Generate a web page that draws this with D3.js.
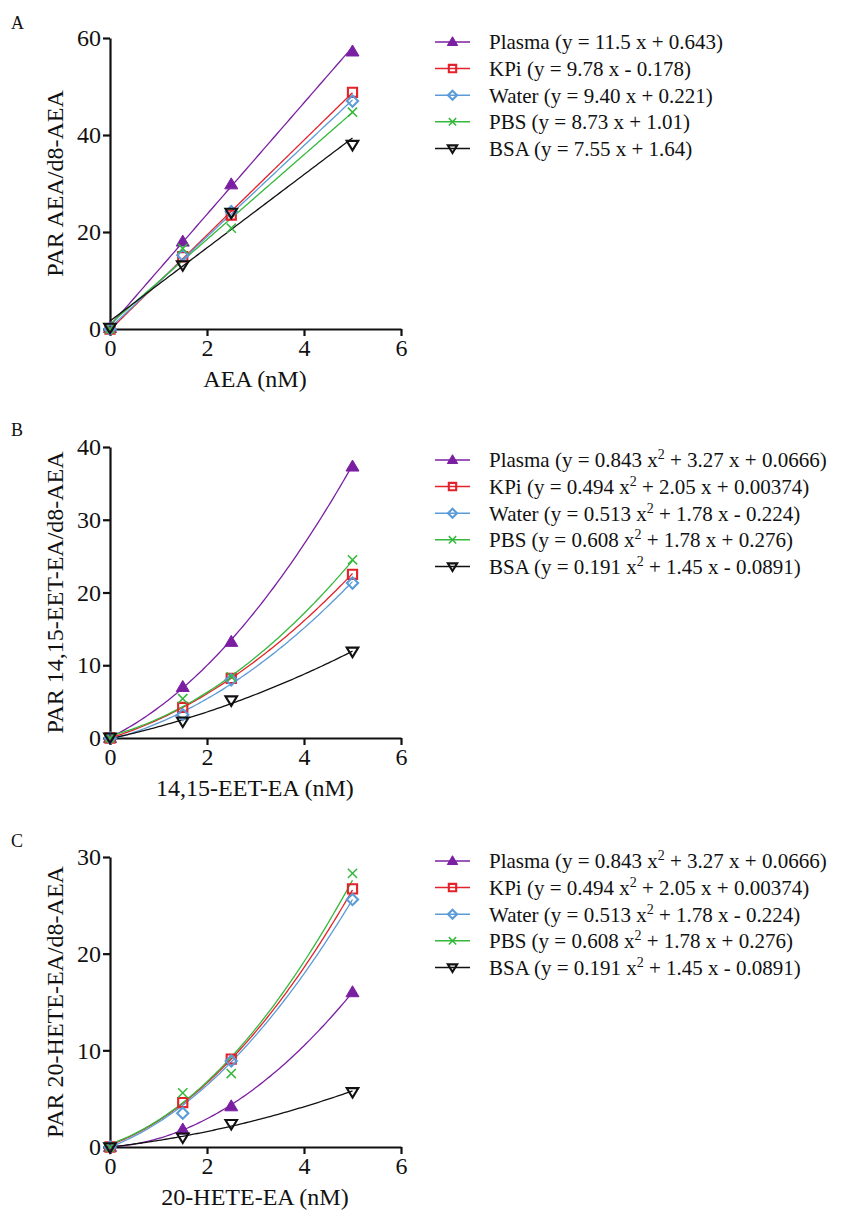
<!DOCTYPE html>
<html><head><meta charset="utf-8">
<script src="https://cdn.jsdelivr.net/npm/d3@7"></script>
<style>
body{margin:0;background:#fff}
text{font-family:"Liberation Serif","Times New Roman","DejaVu Serif",serif;fill:#111}
</style>
</head><body>
<svg id="chart" width="848" height="1216"></svg>
<script>
// ---------- DATA ----------
const xConc = [0, 1.5, 2.5, 5];
const seriesNames = ["Plasma", "KPi", "Water", "PBS", "BSA"];
const xTicks = [0, 2, 4, 6];

// Panel A: AEA
const aPlasma = [0.2, 18.0, 29.8, 57.2];
const aKPi    = [0.0, 14.9, 23.5, 48.8];
const aWater  = [0.0, 15.2, 24.2, 47.0];
const aPBS    = [0.0, 16.6, 20.8, 44.7];
const aBSA    = [0.3, 13.2, 24.0, 38.0];
// fit coefficients [x^2, x, const]
const aFitPlasma = [0, 11.5, 0.643];
const aFitKPi    = [0, 9.78, -0.178];
const aFitWater  = [0, 9.40, 0.221];
const aFitPBS    = [0, 8.73, 1.01];
const aFitBSA    = [0, 7.55, 1.64];
const aYTicks = [0, 20, 40, 60];
const aLegend = [
  "Plasma (y = 11.5 x + 0.643)",
  "KPi (y = 9.78 x - 0.178)",
  "Water (y = 9.40 x + 0.221)",
  "PBS (y = 8.73 x + 1.01)",
  "BSA (y = 7.55 x + 1.64)"
];

// Panel B: 14,15-EET-EA
const bPlasma = [0.0, 7.0, 13.2, 37.3];
const bKPi    = [0.0, 4.2, 8.2, 22.5];
const bWater  = [0.0, 3.2, 8.0, 21.3];
const bPBS    = [0.0, 5.4, 8.4, 24.5];
const bBSA    = [0.1, 2.3, 5.2, 11.9];
const bFitPlasma = [0.843, 3.27, 0.0666];
const bFitKPi    = [0.494, 2.05, 0.00374];
const bFitWater  = [0.513, 1.78, -0.224];
const bFitPBS    = [0.608, 1.78, 0.276];
const bFitBSA    = [0.191, 1.45, -0.0891];
const bYTicks = [0, 10, 20, 30, 40];
const bLegend = [
  "Plasma (y = 0.843 x^2 + 3.27 x + 0.0666)",
  "KPi (y = 0.494 x^2 + 2.05 x + 0.00374)",
  "Water (y = 0.513 x^2 + 1.78 x - 0.224)",
  "PBS (y = 0.608 x^2 + 1.78 x + 0.276)",
  "BSA (y = 0.191 x^2 + 1.45 x - 0.0891)"
];

// Panel C: 20-HETE-EA
const cPlasma = [0.0, 1.8, 4.2, 16.0];
const cKPi    = [0.0, 4.6, 9.1, 26.7];
const cWater  = [0.0, 3.5, 8.9, 25.6];
const cPBS    = [0.0, 5.6, 7.6, 28.3];
const cBSA    = [0.0, 1.0, 2.4, 5.7];
const cFitPlasma = [0.58, 0.30, 0.0];
const cFitKPi    = [0.688, 1.84, 0.2];
const cFitWater  = [0.64, 1.92, 0.0];
const cFitPBS    = [0.744, 1.74, 0.3];
const cFitBSA    = [0.12, 0.56, 0.0];
const cYTicks = [0, 10, 20, 30];
const cLegend = bLegend.slice();

// ---------- STYLE / LAYOUT ----------
const FONT = '"Liberation Serif","Times New Roman","DejaVu Serif",serif';
const colors = ["#7b1fa2", "#e3222b", "#5b9bd8", "#35b83c", "#111111"];
const svg = d3.select("#chart");

const panels = [
  {label:"A", top:38, bottom:329, yMax:60, yTicks:aYTicks, xTitle:"AEA (nM)", yTitle:"PAR AEA/d8-AEA",
   data:[aPlasma,aKPi,aWater,aPBS,aBSA], fits:[aFitPlasma,aFitKPi,aFitWater,aFitPBS,aFitBSA],
   legend:aLegend, legendTop:42, labelY:29},
  {label:"B", top:447, bottom:738, yMax:40, yTicks:bYTicks, xTitle:"14,15-EET-EA (nM)", yTitle:"PAR 14,15-EET-EA/d8-AEA",
   data:[bPlasma,bKPi,bWater,bPBS,bBSA], fits:[bFitPlasma,bFitKPi,bFitWater,bFitPBS,bFitBSA],
   legend:bLegend, legendTop:460, labelY:436},
  {label:"C", top:857, bottom:1147, yMax:30, yTicks:cYTicks, xTitle:"20-HETE-EA (nM)", yTitle:"PAR 20-HETE-EA/d8-AEA",
   data:[cPlasma,cKPi,cWater,cPBS,cBSA], fits:[cFitPlasma,cFitKPi,cFitWater,cFitPBS,cFitBSA],
   legend:cLegend, legendTop:861, labelY:847}
];

function markerPath(i, s) {
  switch (i) {
    case 0: { const w = 6.5*s, h = 11*s;
      return `M0,${-h*0.6}L${w},${h*0.4}L${-w},${h*0.4}Z`; }
    case 1: { const r = 4.6*s; return `M${-r},${-r}H${r}V${r}H${-r}Z`; }
    case 2: { const r = 5.6*s; return `M0,${-r}L${r},0L0,${r}L${-r},0Z`; }
    case 3: { const r = 4.6*s; return `M${-r},${-r}L${r},${r}M${-r},${r}L${r},${-r}`; }
    case 4: { const w = 5.8*s, h = 9.5*s;
      return `M0,${h*0.6}L${w},${-h*0.4}L${-w},${-h*0.4}Z`; }
  }
}
function styleMarker(sel, i, s) {
  sel.attr("d", markerPath(i, s))
    .attr("fill", i === 0 ? colors[0] : "none")
    .attr("stroke", colors[i])
    .attr("stroke-width", i === 0 ? 1 : (i === 3 ? 1.5 : 2.1))
    .attr("stroke-linejoin", "miter");
}

panels.forEach(p => {
  const g = svg.append("g").attr("font-family", FONT);
  const x = d3.scaleLinear().domain([0, 6]).range([110, 401]);
  const y = d3.scaleLinear().domain([0, p.yMax]).range([p.bottom, p.top]);

  // axes
  const xa = g.append("g").attr("transform", `translate(0,${p.bottom})`)
    .call(d3.axisBottom(x).tickValues(xTicks).tickFormat(d3.format("d"))
      .tickSize(7).tickPadding(3).tickSizeOuter(0));
  const ya = g.append("g").attr("transform", `translate(110,0)`)
    .call(d3.axisLeft(y).tickValues(p.yTicks).tickFormat(d3.format("d"))
      .tickSize(7).tickPadding(2).tickSizeOuter(0));
  [xa, ya].forEach(a => {
    a.attr("font-family", FONT);
    a.select(".domain").attr("stroke", "#111").attr("stroke-width", 2.2);
    a.selectAll(".tick line").attr("stroke", "#111").attr("stroke-width", 2.2);
    a.selectAll(".tick text").attr("font-size", 24).attr("fill", "#111")
      .attr("font-family", FONT);
  });

  // titles
  g.append("text").attr("x", 255).attr("y", p.bottom + 58).attr("text-anchor", "middle")
    .attr("font-size", 24).text(p.xTitle);
  g.append("text").attr("transform", `translate(55,${(p.top + p.bottom)/2}) rotate(-90)`)
    .attr("text-anchor", "middle").attr("dy", "0.35em").attr("font-size", 24).text(p.yTitle);
  g.append("text").attr("x", 11).attr("y", p.labelY).attr("font-size", 18).text(p.label);

  // fitted curves
  const xs = d3.range(0, 5.0001, 0.05);
  p.fits.forEach((f, i) => {
    const line = d3.line().x(d => x(d)).y(d => y(f[0]*d*d + f[1]*d + f[2]));
    g.append("path").attr("d", line(xs)).attr("fill", "none")
      .attr("stroke", colors[i]).attr("stroke-width", 1.3);
  });

  // points
  p.data.forEach((vals, i) => {
    g.selectAll(null).data(vals).enter().append("path")
      .attr("transform", (d, k) => `translate(${x(xConc[k])},${y(d)})`)
      .call(sel => styleMarker(sel, i, 1));
  });

  // legend
  p.legend.forEach((txt, i) => {
    const ly = p.legendTop + i * 26.6;
    const lg = g.append("g").attr("transform", `translate(0,${ly})`);
    lg.append("line").attr("x1", 435).attr("x2", 470).attr("y1", 0).attr("y2", 0)
      .attr("stroke", colors[i]).attr("stroke-width", 1.5);
    lg.append("path").attr("transform", "translate(452.5,0)").call(sel => styleMarker(sel, i, 0.8));
    const t = lg.append("text").attr("x", 489).attr("y", 0).attr("dy", "0.35em").attr("font-size", 21);
    const parts = txt.split("^2");
    if (parts.length === 1) { t.text(txt); }
    else {
      t.append("tspan").text(parts[0]);
      t.append("tspan").attr("font-size", 14).attr("dy", -8).text("2");
      t.append("tspan").attr("dy", 8).text(parts[1]);
    }
  });
});
</script>
</body></html>
